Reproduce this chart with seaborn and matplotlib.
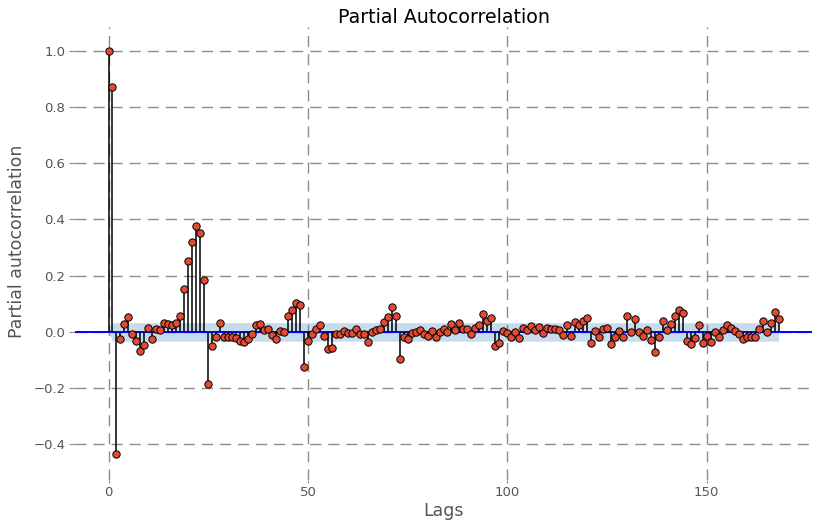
import numpy as np
import pandas as pd
import matplotlib
matplotlib.use("Agg")
import matplotlib.pyplot as plt
import seaborn as sns

# ---- data -------------------------------------------------------------
pacf_0_27 = [1.0, 0.872, -0.435, -0.026, 0.027, 0.053, -0.006, -0.033, -0.069, -0.046,
             0.013, -0.026, 0.012, 0.007, 0.032, 0.027, 0.025, 0.030, 0.057, 0.152,
             0.251, 0.321, 0.377, 0.352, 0.184, -0.187, -0.049, -0.018]
pacf_28_53 = [0.030, -0.017, -0.017, -0.018, -0.020, -0.032, -0.037, -0.024, -0.009, 0.025,
              0.027, 0.005, 0.012, -0.011, -0.025, 0.002, 0.001, 0.055, 0.078, 0.104,
              0.097, -0.125, -0.032, -0.008, 0.011, 0.024]
pacf_54_80 = [-0.013, -0.060, -0.056, -0.006, -0.009, 0.002, -0.004, -0.004, 0.009, -0.008,
              -0.009, -0.037, -0.001, 0.007, 0.010, 0.037, 0.052, 0.090, 0.057, -0.097,
              -0.018, -0.024, -0.005, 0.0, 0.005, -0.006, -0.014]
pacf_81_107 = [0.002, -0.017, -0.002, 0.009, 0.0, 0.028, 0.006, 0.031, 0.012, 0.012,
               -0.009, 0.013, 0.025, 0.064, 0.039, 0.049, -0.050, -0.040, 0.004, -0.005,
               -0.017, 0.0, -0.021, 0.013, 0.007, 0.021, 0.005]
pacf_108_135 = [0.018, -0.005, 0.015, 0.012, 0.009, 0.005, -0.011, 0.025, -0.013, 0.034,
                0.025, 0.039, 0.049, -0.040, 0.002, -0.018, 0.011, 0.013, -0.044, -0.018,
                0.002, -0.018, 0.055, -0.001, 0.045, 0.001, -0.015, 0.006]
pacf_136_168 = [-0.028, -0.070, -0.018, 0.039, 0.007, 0.028, 0.058, 0.078, 0.069, -0.031,
                -0.044, -0.020, 0.026, -0.041, -0.014, -0.037, 0.001, -0.017, 0.007, 0.023,
                0.014, 0.004, -0.007, -0.025, -0.017, -0.017, -0.017, 0.011, 0.040, 0.001,
                0.030, 0.071, 0.046]
pacf_values = (pacf_0_27 + pacf_28_53 + pacf_54_80 + pacf_81_107
               + pacf_108_135 + pacf_136_168)
lags = list(range(len(pacf_values)))
conf_halfwidth = 0.033   # 95% confidence band half-width (lags >= 1)

df = pd.DataFrame({"lag": lags, "pacf": pacf_values})
band = np.array([0.0] + [conf_halfwidth] * (len(lags) - 1))

# ---- style -------------------------------------------------------------
sns.set_style("whitegrid", {
    "grid.linestyle": (0, (8, 5)),
    "grid.color": "#8c8c8c",
    "axes.edgecolor": "white",
    "xtick.bottom": True,
    "ytick.left": True,
    "xtick.color": "#555555",
    "ytick.color": "#555555",
    "axes.labelcolor": "#555555",
})
plt.rcParams["font.family"] = ["DejaVu Sans"]

fig = plt.figure(figsize=(8.19, 5.21), dpi=100)
ax = fig.add_axes([75 / 819, 1 - 480 / 521, (812 - 75) / 819, (480 - 27) / 521])

ax.axhline(0, color="#0000ff", lw=1.4, zorder=2)
ax.vlines(df["lag"], 0, df["pacf"], color="black", lw=1.1, zorder=3)
sns.scatterplot(data=df, x="lag", y="pacf", ax=ax, color="#e24a33",
                edgecolor="black", linewidth=0.7, s=28, zorder=4)
ax.fill_between(df["lag"], -band, band, color="#1f77b4", alpha=0.25,
                linewidth=0, zorder=1)

ax.set_xlim(-8.4, 176.4)
ax.set_ylim(-0.527, 1.085)
ax.set_xticks([0, 50, 100, 150])
ax.set_yticks([-0.4, -0.2, 0.0, 0.2, 0.4, 0.6, 0.8, 1.0])
ax.grid(True, lw=1.0)
ax.tick_params(axis="y", labelsize=9.5, length=4, width=0.8, color="#8c8c8c", pad=3)
ax.tick_params(axis="x", labelsize=9.5, length=2, width=0.8, color="#8c8c8c", pad=2)
for s in ax.spines.values():
    s.set_visible(False)

ax.set_title("Partial Autocorrelation", fontsize=13.7, color="black", pad=2)
ax.set_xlabel("Lags", fontsize=12.5)
ax.set_ylabel("Partial autocorrelation", fontsize=12.5)
ax.xaxis.set_label_coords(0.5, -0.048)
ax.yaxis.set_label_coords(-0.066, 0.528)

fig.savefig("out.png", dpi=100)
